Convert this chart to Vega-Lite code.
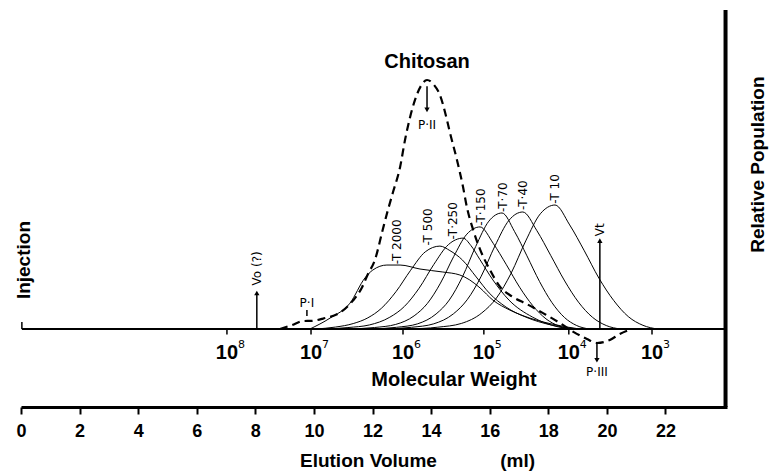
{
  "$schema": "https://vega.github.io/schema/vega-lite/v6.json",
  "width": 706,
  "height": 397,
  "autosize": {"type": "none"},
  "padding": {"left": 21, "top": 10, "right": 43, "bottom": 65},
  "background": "white",
  "config": {"view": {"stroke": null}},
  "datasets": {
    "curves": [
      {"s":"Chitosan","v":8.84,"u":0},{"s":"Chitosan","v":9.25,"u":1.6},{"s":"Chitosan","v":9.62,"u":3.2},{"s":"Chitosan","v":9.93,"u":3.3},{"s":"Chitosan","v":10.31,"u":4.2},{"s":"Chitosan","v":10.89,"u":6.6},{"s":"Chitosan","v":11.33,"u":11.4},{"s":"Chitosan","v":11.64,"u":16.7},{"s":"Chitosan","v":11.84,"u":22},{"s":"Chitosan","v":12.08,"u":27.7},{"s":"Chitosan","v":12.35,"u":40},{"s":"Chitosan","v":12.53,"u":48},{"s":"Chitosan","v":12.7,"u":55},{"s":"Chitosan","v":12.94,"u":65},{"s":"Chitosan","v":13.11,"u":76},{"s":"Chitosan","v":13.45,"u":92},{"s":"Chitosan","v":13.65,"u":97.6},{"s":"Chitosan","v":13.86,"u":100},{"s":"Chitosan","v":14.1,"u":98},{"s":"Chitosan","v":14.3,"u":94},{"s":"Chitosan","v":14.54,"u":84},{"s":"Chitosan","v":14.64,"u":79},{"s":"Chitosan","v":14.88,"u":68},{"s":"Chitosan","v":15.09,"u":57},{"s":"Chitosan","v":15.22,"u":49},{"s":"Chitosan","v":15.43,"u":40},{"s":"Chitosan","v":15.67,"u":32},{"s":"Chitosan","v":16.01,"u":23.7},{"s":"Chitosan","v":16.35,"u":17},{"s":"Chitosan","v":16.79,"u":12.9},{"s":"Chitosan","v":17.27,"u":10},{"s":"Chitosan","v":17.82,"u":6.4},{"s":"Chitosan","v":18.4,"u":2.4},{"s":"Chitosan","v":18.81,"u":-0.8},{"s":"Chitosan","v":19.32,"u":-4},{"s":"Chitosan","v":19.66,"u":-5.6},{"s":"Chitosan","v":20.1,"u":-4.4},{"s":"Chitosan","v":20.44,"u":-2},{"s":"Chitosan","v":20.85,"u":0},
      {"s":"T2000","v":9.86,"u":0},{"s":"T2000","v":10.55,"u":4.4},{"s":"T2000","v":11.23,"u":10.4},{"s":"T2000","v":11.74,"u":20.5},{"s":"T2000","v":12.01,"u":23.7},{"s":"T2000","v":12.49,"u":25.7},{"s":"T2000","v":12.94,"u":25.7},{"s":"T2000","v":13.62,"u":24.1},{"s":"T2000","v":14.4,"u":22.9},{"s":"T2000","v":14.98,"u":21.7},{"s":"T2000","v":15.32,"u":19.7},{"s":"T2000","v":15.67,"u":16.5},{"s":"T2000","v":16.11,"u":11.6},{"s":"T2000","v":16.69,"u":7.6},{"s":"T2000","v":17.37,"u":4.4},{"s":"T2000","v":18.29,"u":1.6},{"s":"T2000","v":19.08,"u":0},
      {"s":"T500","v":10.04,"u":0},{"s":"T500","v":10.74,"u":0.8},{"s":"T500","v":11.34,"u":2.2},{"s":"T500","v":11.84,"u":4.5},{"s":"T500","v":12.3,"u":8.3},{"s":"T500","v":12.8,"u":15},{"s":"T500","v":13.3,"u":23.6},{"s":"T500","v":13.8,"u":31},{"s":"T500","v":14.3,"u":33.3},{"s":"T500","v":14.64,"u":31.5},{"s":"T500","v":15.07,"u":27.7},{"s":"T500","v":15.54,"u":20.9},{"s":"T500","v":15.98,"u":14.5},{"s":"T500","v":16.56,"u":8.8},{"s":"T500","v":17.23,"u":4.8},{"s":"T500","v":18.11,"u":1.6},{"s":"T500","v":19.04,"u":0},
      {"s":"T250","v":10.46,"u":0},{"s":"T250","v":11.16,"u":0.6},{"s":"T250","v":11.89,"u":1.64},{"s":"T250","v":12.59,"u":4.75},{"s":"T250","v":13.09,"u":9.1},{"s":"T250","v":13.59,"u":16.4},{"s":"T250","v":14.09,"u":25.9},{"s":"T250","v":14.59,"u":33.9},{"s":"T250","v":15.09,"u":36.5},{"s":"T250","v":15.36,"u":33.5},{"s":"T250","v":15.66,"u":28},{"s":"T250","v":16.11,"u":19.7},{"s":"T250","v":16.66,"u":11.6},{"s":"T250","v":17.46,"u":4.8},{"s":"T250","v":18.36,"u":0.8},{"s":"T250","v":18.81,"u":0},
      {"s":"T150","v":11.17,"u":0},{"s":"T150","v":12.07,"u":0.62},{"s":"T150","v":12.79,"u":1.85},{"s":"T150","v":13.42,"u":5.3},{"s":"T150","v":13.87,"u":10.25},{"s":"T150","v":14.32,"u":18.45},{"s":"T150","v":14.77,"u":29.1},{"s":"T150","v":15.22,"u":38.1},{"s":"T150","v":15.67,"u":41},{"s":"T150","v":16.12,"u":34.4},{"s":"T150","v":16.57,"u":25.8},{"s":"T150","v":17.02,"u":16.8},{"s":"T150","v":17.47,"u":9.4},{"s":"T150","v":17.92,"u":4.1},{"s":"T150","v":18.37,"u":1.2},{"s":"T150","v":18.82,"u":0},
      {"s":"T70","v":11.92,"u":0},{"s":"T70","v":12.82,"u":0.7},{"s":"T70","v":13.54,"u":2.1},{"s":"T70","v":14.17,"u":6.06},{"s":"T70","v":14.62,"u":11.65},{"s":"T70","v":15.07,"u":21},{"s":"T70","v":15.52,"u":33.1},{"s":"T70","v":15.97,"u":43.3},{"s":"T70","v":16.42,"u":46.6},{"s":"T70","v":16.85,"u":39.1},{"s":"T70","v":17.27,"u":29.4},{"s":"T70","v":17.7,"u":19.1},{"s":"T70","v":18.12,"u":10.7},{"s":"T70","v":18.55,"u":4.66},{"s":"T70","v":18.97,"u":1.4},{"s":"T70","v":19.4,"u":0},
      {"s":"T40","v":12.38,"u":0},{"s":"T40","v":13.33,"u":0.7},{"s":"T40","v":14.09,"u":2.1},{"s":"T40","v":14.76,"u":6.1},{"s":"T40","v":15.23,"u":11.75},{"s":"T40","v":15.71,"u":21.2},{"s":"T40","v":16.18,"u":33.4},{"s":"T40","v":16.66,"u":43.7},{"s":"T40","v":17.13,"u":47},{"s":"T40","v":17.61,"u":39.5},{"s":"T40","v":18.08,"u":29.6},{"s":"T40","v":18.56,"u":19.3},{"s":"T40","v":19.03,"u":10.8},{"s":"T40","v":19.51,"u":4.7},{"s":"T40","v":19.98,"u":1.4},{"s":"T40","v":20.46,"u":0},
      {"s":"T10","v":13.23,"u":0},{"s":"T10","v":14.23,"u":0.75},{"s":"T10","v":15.03,"u":2.24},{"s":"T10","v":15.73,"u":6.47},{"s":"T10","v":16.23,"u":12.45},{"s":"T10","v":16.73,"u":22.4},{"s":"T10","v":17.23,"u":35.4},{"s":"T10","v":17.73,"u":46.3},{"s":"T10","v":18.23,"u":49.8},{"s":"T10","v":18.73,"u":41.8},{"s":"T10","v":19.23,"u":31.4},{"s":"T10","v":19.73,"u":20.4},{"s":"T10","v":20.23,"u":11.5},{"s":"T10","v":20.73,"u":5},{"s":"T10","v":21.23,"u":1.5},{"s":"T10","v":21.73,"u":0}
    ],
    "rules": [
      {"name":"Vo","v":8.05,"u":0,"u2":14},
      {"name":"Vt","v":19.76,"u":0,"u2":35},
      {"name":"P-II","v":13.86,"u":97.5,"u2":88.5},
      {"name":"P-III","v":19.66,"u":-5.6,"u2":-12},
      {"name":"P-I","v":9.76,"u":5.2,"u2":7.6},
      {"name":"Injection","v":0.03,"u":0,"u2":2.8},
      {"name":"1e8","v":7.03,"u":0,"u2":-2.2},
      {"name":"1e7","v":9.9,"u":0,"u2":-2.2},
      {"name":"1e6","v":13.04,"u":0,"u2":-2.2},
      {"name":"1e5","v":15.8,"u":0,"u2":-2.2},
      {"name":"1e4","v":18.7,"u":0,"u2":-2.2},
      {"name":"1e3","v":21.54,"u":0,"u2":-2.2}
    ],
    "heads": [
      {"name":"Vo","v":8.05,"u":14.5,"dir":"up"},
      {"name":"Vt","v":19.76,"u":35.5,"dir":"up"},
      {"name":"P-II","v":13.86,"u":88,"dir":"down"},
      {"name":"P-III","v":19.66,"u":-12.5,"dir":"down"}
    ],
    "texts": [
      {"k":"rot","t":"-T 2000","v":12.83,"u":26},
      {"k":"rot","t":"-T 500","v":13.89,"u":33.5},
      {"k":"rot","t":"-T·250","v":14.74,"u":36},
      {"k":"rot","t":"-T·150","v":15.7,"u":41.5},
      {"k":"rot","t":"-T·70","v":16.45,"u":47},
      {"k":"rot","t":"-T·40","v":17.13,"u":47.8},
      {"k":"rot","t":"-T 10","v":18.23,"u":50.3},
      {"k":"rot","t":"Vo (?)","v":8.05,"u":17.5},
      {"k":"rot","t":"Vt","v":19.76,"u":37.3},
      {"k":"small","t":"P·I","v":9.76,"u":10.4},
      {"k":"small","t":"P·II","v":13.86,"u":82},
      {"k":"small","t":"P·III","v":19.66,"u":-17.3},
      {"k":"head","t":"Chitosan","v":13.86,"u":107.2},
      {"k":"mwtitle","t":"Molecular Weight","v":14.78,"u":-20.5},
      {"k":"side","t":"Injection","v":0.1,"u":27.7},
      {"k":"side","t":"Relative Population","v":25.15,"u":66},
      {"k":"mw","t":"10","v":7.03,"u":-9.6,"e":"8"},
      {"k":"mw","t":"10","v":9.9,"u":-9.6,"e":"7"},
      {"k":"mw","t":"10","v":13.04,"u":-9.6,"e":"6"},
      {"k":"mw","t":"10","v":15.8,"u":-9.6,"e":"5"},
      {"k":"mw","t":"10","v":18.7,"u":-9.6,"e":"4"},
      {"k":"mw","t":"10","v":21.54,"u":-9.6,"e":"3"}
    ]
  },
  "encoding": {
    "x": {
      "field": "v", "type": "quantitative",
      "scale": {"domain": [0, 24.1], "nice": false, "zero": false},
      "axis": {
        "values": [0, 2, 4, 6, 8, 10, 12, 14, 16, 18, 20, 22],
        "grid": false,
        "domain": true, "domainColor": "black", "domainWidth": 3,
        "ticks": true, "tickColor": "black", "tickWidth": 2, "tickSize": 7,
        "labelFont": "Liberation Sans",
        "labelFontSize": 18, "labelFontWeight": "bold", "labelColor": "black",
        "labelPadding": 8, "labelFlush": false,
        "title": "Elution Volume\u00a0\u00a0\u00a0\u00a0\u00a0\u00a0\u00a0\u00a0\u00a0\u00a0\u00a0\u00a0(ml)",
        "titleFont": "Liberation Sans",
        "titleFontSize": 19, "titleFontWeight": "bold", "titleColor": "black",
        "titleX": 396, "titleY": 53, "titleBaseline": "middle", "titleAlign": "center"
      }
    },
    "y": {
      "field": "u", "type": "quantitative",
      "scale": {"domain": [-31.3, 128.1], "nice": false, "zero": false},
      "axis": null
    }
  },
  "layer": [
    {
      "data": {"values": [{"v": 0.03, "v2": 24.05, "u": 0}]},
      "mark": {"type": "rule", "color": "black", "strokeWidth": 2},
      "encoding": {"x2": {"field": "v2"}}
    },
    {
      "data": {"values": [{"v": 24.05, "u": -31.3, "u2": 128.1}]},
      "mark": {"type": "rule", "color": "black", "strokeWidth": 4},
      "encoding": {"y2": {"field": "u2"}}
    },
    {
      "data": {"name": "rules"},
      "mark": {"type": "rule", "color": "black", "strokeWidth": 1.5},
      "encoding": {"y2": {"field": "u2"}}
    },
    {
      "data": {"name": "heads"},
      "mark": {"type": "point", "filled": true, "color": "black", "size": 28, "opacity": 1},
      "encoding": {
        "shape": {"field": "dir", "type": "nominal", "scale": {"domain": ["up", "down"], "range": ["triangle-up", "triangle-down"]}, "legend": null}
      }
    },
    {
      "data": {"name": "curves"},
      "transform": [{"filter": "datum.s !== 'Chitosan'"}],
      "mark": {"type": "line", "color": "black", "strokeWidth": 1, "interpolate": "monotone"},
      "encoding": {"detail": {"field": "s", "type": "nominal"}}
    },
    {
      "data": {"name": "curves"},
      "transform": [{"filter": "datum.s === 'Chitosan'"}],
      "mark": {"type": "line", "color": "black", "strokeWidth": 2.2, "strokeDash": [8, 5], "interpolate": "monotone"},
      "encoding": {}
    },
    {
      "data": {"name": "texts"},
      "transform": [{"filter": "datum.k === 'rot'"}],
      "mark": {"type": "text", "angle": 270, "align": "left", "baseline": "middle", "font": "DejaVu Sans", "fontSize": 12, "color": "black"},
      "encoding": {"text": {"field": "t"}}
    },
    {
      "data": {"name": "texts"},
      "transform": [{"filter": "datum.k === 'small'"}],
      "mark": {"type": "text", "align": "center", "baseline": "middle", "font": "DejaVu Sans", "fontSize": 12, "color": "black"},
      "encoding": {"text": {"field": "t"}}
    },
    {
      "data": {"name": "texts"},
      "transform": [{"filter": "datum.k === 'head'"}],
      "mark": {"type": "text", "align": "center", "baseline": "middle", "font": "Liberation Sans", "fontWeight": "bold", "fontSize": 20, "color": "black"},
      "encoding": {"text": {"field": "t"}}
    },
    {
      "data": {"name": "texts"},
      "transform": [{"filter": "datum.k === 'mwtitle'"}],
      "mark": {"type": "text", "align": "center", "baseline": "middle", "font": "Liberation Sans", "fontWeight": "bold", "fontSize": 20, "color": "black"},
      "encoding": {"text": {"field": "t"}}
    },
    {
      "data": {"name": "texts"},
      "transform": [{"filter": "datum.k === 'side'"}],
      "mark": {"type": "text", "angle": 270, "align": "center", "baseline": "middle", "font": "Liberation Sans", "fontWeight": "bold", "fontSize": 19, "color": "black"},
      "encoding": {"text": {"field": "t"}}
    },
    {
      "data": {"name": "texts"},
      "transform": [{"filter": "datum.k === 'mw'"}],
      "mark": {"type": "text", "align": "center", "baseline": "middle", "font": "Liberation Sans", "fontWeight": "bold", "fontSize": 20, "color": "black"},
      "encoding": {"text": {"field": "t"}}
    },
    {
      "data": {"name": "texts"},
      "transform": [{"filter": "datum.k === 'mw'"}],
      "mark": {"type": "text", "align": "left", "baseline": "middle", "dx": 11, "dy": -8, "font": "DejaVu Sans", "fontSize": 11, "color": "black"},
      "encoding": {"text": {"field": "e"}}
    }
  ]
}
